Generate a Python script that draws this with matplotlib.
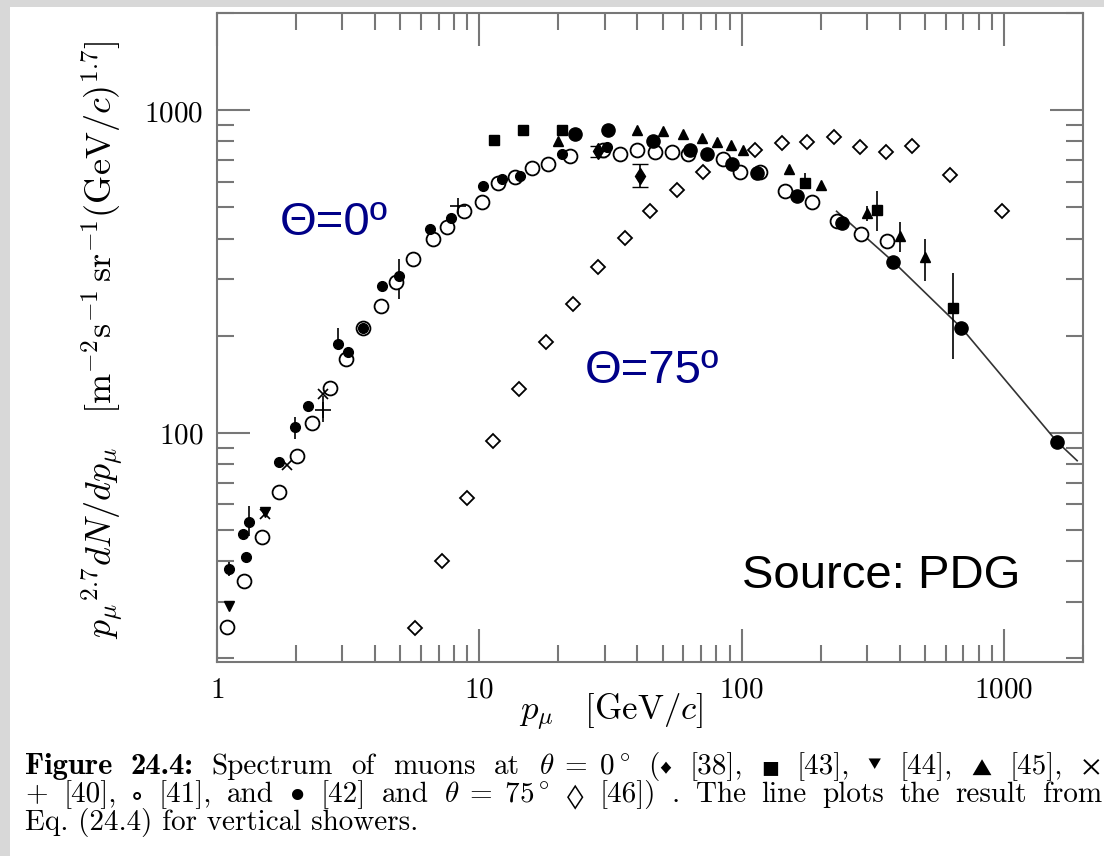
import matplotlib
matplotlib.use("Agg")
import matplotlib.pyplot as plt
from matplotlib.patches import Rectangle

plt.rcParams['mathtext.fontset'] = 'cm'

# theta = 0 deg, open circles [41]
circ_p = [1.09, 1.27, 1.48, 1.72, 2.01, 2.30, 2.69, 3.09, 3.59, 4.20,
          4.83, 5.61, 6.63, 7.56, 8.77, 10.2, 11.8, 13.7, 15.9, 18.3,
          22.2, 29.6, 34.4, 39.9, 46.7, 54.2, 62.3, 84.7, 98.3, 117,
          146, 185, 230, 286, 359]
circ_y = [25.0, 34.7, 47.5, 65.5, 84.7, 107, 138, 170, 211, 247,
          293, 345, 398, 433, 486, 518, 593, 619, 660, 679,
          719, 755, 729, 755, 740, 740, 729, 704, 642, 642,
          560, 518, 452, 412, 392]

# theta = 0 deg, filled circles [42]
big_p = [23.2, 30.9, 45.9, 63.4, 73.6, 91.6, 114, 162, 242, 378, 686, 1590]
big_y = [841, 871, 800, 750, 729, 679, 637, 541, 446, 338, 211, 94]

# small filled dots at low momentum
dot_p = [1.11, 1.26, 1.29, 1.32, 1.72, 1.98, 2.22, 2.88, 3.15, 3.59,
         4.24, 4.92, 6.51, 7.83, 10.3, 12.2, 14.3, 20.7, 30.7]
dot_y = [37.8, 48.6, 41.2, 52.9, 81.2, 104, 121, 188, 178, 211,
         285, 306, 427, 462, 580, 610, 623, 729, 767]
dot_bar_p = [1.11, 1.32, 1.98, 2.88, 4.92]
dot_bar_lo = [36, 47.9, 95.6, 188, 259]
dot_bar_hi = [39.8, 59.3, 112, 212, 345]

# filled squares [43]
sq_p = [11.4, 14.7, 20.7, 175, 329, 640]
sq_y = [806, 871, 871, 593, 489, 243]
sq_bar_p = [175, 329, 640]
sq_bar_lo = [593, 421, 169]
sq_bar_hi = [640, 560, 314]

# filled triangles [45]
tri_p = [20.0, 39.9, 50.1, 59.7, 70.5, 80.4, 90.8, 101, 151, 200, 301, 402, 501]
tri_y = [800, 871, 859, 841, 817, 794, 778, 755, 655, 585, 479, 406, 350]
tri_bar_p = [301, 402, 501]
tri_bar_lo = [455, 363, 295]
tri_bar_hi = [505, 449, 398]

# filled diamonds [38]
fd_p = [28.3, 40.9]
fd_y = [745, 623]
fd_lo = [715, 576]
fd_hi = [775, 679]

# + [40], x [39], inverted triangles [44]
plus_p = [2.53, 8.32]
plus_y = [118, 503]
plus_bar_p = [2.53]
plus_bar_lo = [108]
plus_bar_hi = [130]
cross_p = [1.52, 1.85, 2.53]
cross_y = [56, 79.4, 132]
inv_p = [1.11, 1.52]
inv_y = [29.1, 57]

# theta = 75 deg, open diamonds [46]
dia_p = [5.7, 7.2, 9.0, 11.3, 14.2, 18.0, 22.8, 28.3, 35.9, 44.7,
         56.6, 71.1, 112, 142, 178, 224, 283, 356, 447, 623, 983]
dia_y = [24.9, 40.1, 62.8, 94.3, 137, 191, 250, 326, 403, 486,
         564, 642, 755, 789, 794, 823, 767, 740, 772, 628, 486]

# Eq. (24.4), vertical showers
line_p = [230, 380, 690, 1590, 1900]
line_y = [486, 338, 211, 94, 82]

W, H = 1104, 856
fig = plt.figure(figsize=(W / 100, H / 100), dpi=100, facecolor='#d8d8d8')
fig.patches.append(Rectangle((10 / W, 0), 1, 1 - 7 / H,
                             transform=fig.transFigure, facecolor='white',
                             edgecolor='none', zorder=-10))

ax = fig.add_axes([217 / W, 1 - 662 / H, 866 / W, 649 / H])
ax.set_xscale('log')
ax.set_yscale('log')
ax.set_xlim(1, 2000)
ax.set_ylim(19.5, 2000)

ax.plot(line_p, line_y, color='#333333', lw=1.2, zorder=2)

bar_kw = dict(color='black', lw=1.2, zorder=3)
ax.vlines(dot_bar_p, dot_bar_lo, dot_bar_hi, **bar_kw)
ax.vlines(sq_bar_p, sq_bar_lo, sq_bar_hi, **bar_kw)
ax.vlines(tri_bar_p, tri_bar_lo, tri_bar_hi, **bar_kw)
ax.vlines(plus_bar_p, plus_bar_lo, plus_bar_hi, **bar_kw)
ax.errorbar(fd_p, fd_y, yerr=[[y - l for y, l in zip(fd_y, fd_lo)],
                              [h - y for y, h in zip(fd_y, fd_hi)]],
            fmt='d', color='black', ms=8, capsize=6, elinewidth=1.2, zorder=4)

ax.plot(circ_p, circ_y, 'o', ms=10, mfc='white', mec='black', mew=1.3, zorder=4)
ax.plot(dia_p, dia_y, 'D', ms=7.5, mfc='white', mec='black', mew=1.3, zorder=4)
ax.plot(big_p, big_y, 'o', ms=9.5, color='black', zorder=5)
ax.plot(dot_p, dot_y, 'o', ms=7, color='black', zorder=5)
ax.plot(sq_p, sq_y, 's', ms=6.5, color='black', zorder=5)
ax.plot(tri_p, tri_y, '^', ms=7.5, color='black', zorder=5)
ax.plot(plus_p, plus_y, '+', ms=11, mew=1.2, color='black', zorder=5)
ax.plot(cross_p, cross_y, 'x', ms=7, mew=1.2, color='black', zorder=5)
ax.plot(inv_p, inv_y, 'v', ms=6.5, color='black', zorder=5)

for s in ax.spines.values():
    s.set_color('#777777')
    s.set_linewidth(1.5)
ax.tick_params(which='both', direction='in', top=True, right=True,
               color='#777777', width=1.5, labelsize=21, pad=10)
ax.tick_params(which='major', length=24)
ax.tick_params(which='minor', length=12)
ax.set_xticks([1, 10, 100, 1000])
ax.set_xticklabels([r'$1$', r'$10$', r'$100$', r'$1000$'])
ax.set_yticks([100, 1000])
ax.set_yticklabels([r'$100$', r'$1000$'])

# angle labels and source
ax.text(0.073, 0.658, 'Θ=0º', transform=ax.transAxes, fontsize=34,
        family='Liberation Sans', color='#000088', va='baseline')
ax.text(0.425, 0.43, 'Θ=75º', transform=ax.transAxes, fontsize=34,
        family='Liberation Sans', color='#000088', va='baseline')
ax.text(0.606, 0.114, 'Source: PDG', transform=ax.transAxes, fontsize=34,
        family='Liberation Sans', color='black', va='baseline')

fig.text(611 / W, 1 - 712 / H, r'$p_{\mu}\quad[\mathrm{GeV}/c]$',
         fontsize=25, ha='center', va='center')
fig.text(103 / W, 1 - 340 / H,
         r'${p_{\mu}}^{2.7}dN/dp_{\mu}\ \ \ [\mathrm{m}^{-2}\mathrm{s}^{-1}\,'
         r'\mathrm{sr}^{-1}(\mathrm{GeV}/c)^{1.7}]$',
         fontsize=26, rotation=90, ha='center', va='center')

# figure caption: each line is a run of words spread evenly between
# a left and right edge, like a justified paragraph
RM = ['cmr10', 'STIXGeneral']
SY = ['STIXGeneral']
BF = ['cmb10']
renderer = fig.canvas.get_renderer()


def set_line(words, y_px, x0, x1=None, size=21):
    # words: (text, family, size scale, lift px, glued to previous word)
    items = []
    for txt, fam, scale, lift, glued in words:
        t = fig.text(0, 1 - (y_px - lift) / H, txt, fontsize=size * scale,
                     family=fam, ha='left', va='baseline')
        items.append((t, t.get_window_extent(renderer).width, glued))
    n_gaps = sum(1 for _, _, g in items[1:] if not g)
    total = sum(w for _, w, _ in items)
    gap = 8.0 if x1 is None else (x1 - x0 - total) / max(n_gaps, 1)
    x = x0
    for i, (t, w, glued) in enumerate(items):
        if i and not glued:
            x += gap
        t.set_x(x / W)
        x += w


set_line([('Figure', BF, 1.05, 0, False), ('24.4:', BF, 1.05, 0, False),
          ('Spectrum', RM, 1, 0, False), ('of', RM, 1, 0, False),
          ('muons', RM, 1, 0, False), ('at', RM, 1, 0, False),
          (r'$\theta\;=\;0^\circ$', RM, 1, 0, False),
          ('(', RM, 1, 0, False), ('♦', SY, 0.6, 2, True),
          ('[38],', RM, 1, 0, False), ('■', SY, 0.6, 2, False),
          ('[43],', RM, 1, 0, False), ('▾', SY, 0.7, 6, False),
          ('[44],', RM, 1, 0, False), ('▲', SY, 0.6, 1, False),
          ('[45],', RM, 1, 0, False), ('×', SY, 1, 0, False)],
         774, 25, 1100)
set_line([('+', RM, 1, 0, False), ('[40],', RM, 1, 0, False),
          ('∘', SY, 1, 0, False), ('[41],', RM, 1, 0, False),
          ('and', RM, 1, 0, False), ('•', SY, 1, 0, False),
          ('[42]', RM, 1, 0, False), ('and', RM, 1, 0, False),
          (r'$\theta\;=\;75^\circ$', RM, 1, 0, False),
          ('◊', SY, 0.8, 0, False), ('[46])', RM, 1, 0, False),
          ('.', RM, 1, 0, False), ('The', RM, 1, 0, False),
          ('line', RM, 1, 0, False), ('plots', RM, 1, 0, False),
          ('the', RM, 1, 0, False), ('result', RM, 1, 0, False),
          ('from', RM, 1, 0, False)],
         802, 25, 1102)
set_line([('Eq. (24.4) for vertical showers.', RM, 1, 0, False)], 830, 25)

fig.savefig('out.png', dpi=100, facecolor=fig.get_facecolor())
